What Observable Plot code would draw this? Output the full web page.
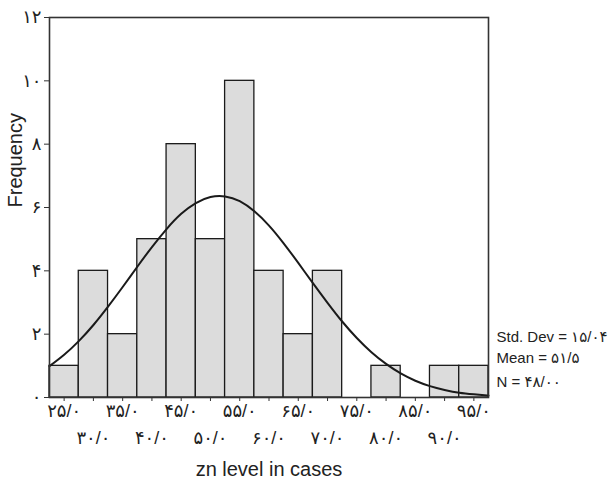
<!DOCTYPE html>
<html>
<head>
<meta charset="utf-8">
<script src="https://cdn.jsdelivr.net/npm/d3@7"></script>
<script src="https://cdn.jsdelivr.net/npm/@observablehq/plot@0.6"></script>
<style>
  body { margin: 0; background: #fff; }
  #chart svg { display: block; }
</style>
</head>
<body>
<div id="chart"></div>
<script>
// Bin centers (width 5) and frequencies
const binCenters = [25, 30, 35, 40, 45, 50, 55, 60, 65, 70, 75, 80, 85, 90, 95];
const frequencies = [1, 4, 2, 5, 8, 5, 10, 4, 2, 4, 0, 1, 0, 1, 1];
const binWidth = 5;

// Fitted normal curve
const curveX = [22.5, 25, 27.5, 30, 32.5, 35, 37.5, 40, 42.5, 45, 47.5, 50, 52.5, 55, 57.5, 60, 62.5, 65, 67.5, 70, 72.5, 75, 77.5, 80, 82.5, 85, 87.5, 90, 92.5, 95, 97.5];
const curveY = [0.99, 1.35, 1.78, 2.29, 2.87, 3.49, 4.13, 4.75, 5.32, 5.80, 6.14, 6.33, 6.35, 6.20, 5.88, 5.43, 4.87, 4.25, 3.61, 2.99, 2.40, 1.88, 1.43, 1.06, 0.76, 0.53, 0.36, 0.24, 0.15, 0.10, 0.06];

// Tick labels
const yTicks = [0, 2, 4, 6, 8, 10, 12];
const yTickLabels = ["۰", "۲", "۴", "۶", "۸", "۱۰", "۱۲"];
const xTicksRow1 = [25, 35, 45, 55, 65, 75, 85, 95];
const xLabelsRow1 = ["۲۵/۰", "۳۵/۰", "۴۵/۰", "۵۵/۰", "۶۵/۰", "۷۵/۰", "۸۵/۰", "۹۵/۰"];
const xTicksRow2 = [30, 40, 50, 60, 70, 80, 90];
const xLabelsRow2 = ["۳۰/۰", "۴۰/۰", "۵۰/۰", "۶۰/۰", "۷۰/۰", "۸۰/۰", "۹۰/۰"];

// Statistics legend
const statLines = ["Std. Dev = ۱۵/۰۴", "Mean = ۵۱/۵", "N = ۴۸/۰۰"];
const statY = [1.9, 1.23, 0.47];

const bars = binCenters.map((c, i) => ({x1: c - binWidth / 2, x2: c + binWidth / 2, y: frequencies[i]})).filter(d => d.y > 0);
const curve = curveX.map((x, i) => ({x, y: curveY[i]}));
const stats = statLines.map((t, i) => ({t, y: statY[i]}));
const lab1 = new Map(xTicksRow1.map((v, i) => [v, xLabelsRow1[i]]));
const lab2 = new Map(xTicksRow2.map((v, i) => [v, xLabelsRow2[i]]));
const ylab = new Map(yTicks.map((v, i) => [v, yTickLabels[i]]));

const font = "'Liberation Sans', Arial, 'DejaVu Sans', sans-serif";

const chart = Plot.plot({
  width: 608,
  height: 490,
  marginLeft: 49,
  marginRight: 120,
  marginTop: 17,
  marginBottom: 93,
  style: {fontFamily: font, fontSize: "15px", color: "#222", background: "#fff"},
  x: {domain: [22.5, 97.5]},
  y: {domain: [0, 12]},
  marks: [
    Plot.rect(bars, {x1: "x1", x2: "x2", y1: 0, y2: "y", fill: "#dcdcdc", stroke: "#1a1a1a", strokeWidth: 1.3}),
    Plot.line(curve, {x: "x", y: "y", curve: "natural", stroke: "#1a1a1a", strokeWidth: 2}),
    Plot.frame({stroke: "#333", strokeWidth: 1.6}),
    Plot.axisY({ticks: yTicks, tickFormat: d => ylab.get(d), tickSize: 5, tickPadding: 3, fontSize: 18, label: null, stroke: "#333"}),
    Plot.axisX({ticks: binCenters, tickFormat: d => lab1.get(d) ?? "", tickSize: 4, tickPadding: 3, fontSize: 18, label: null, stroke: "#333"}),
    Plot.axisX({ticks: xTicksRow2, tickFormat: d => lab2.get(d), tickSize: 0, tickPadding: 34, fontSize: 18, label: null}),
    Plot.text(stats, {x: 97.5, y: "y", text: "t", textAnchor: "start", dx: 8, fontSize: 15, fill: "#222", clip: false}),
    Plot.text(["Frequency"], {frameAnchor: "left", dx: -34, rotate: -90, fontSize: 20, fill: "#222"}),
    Plot.text(["zn level in cases"], {frameAnchor: "bottom", dy: 78, fontSize: 20, fill: "#222"})
  ]
});
document.getElementById("chart").appendChild(chart);
</script>
</body>
</html>
